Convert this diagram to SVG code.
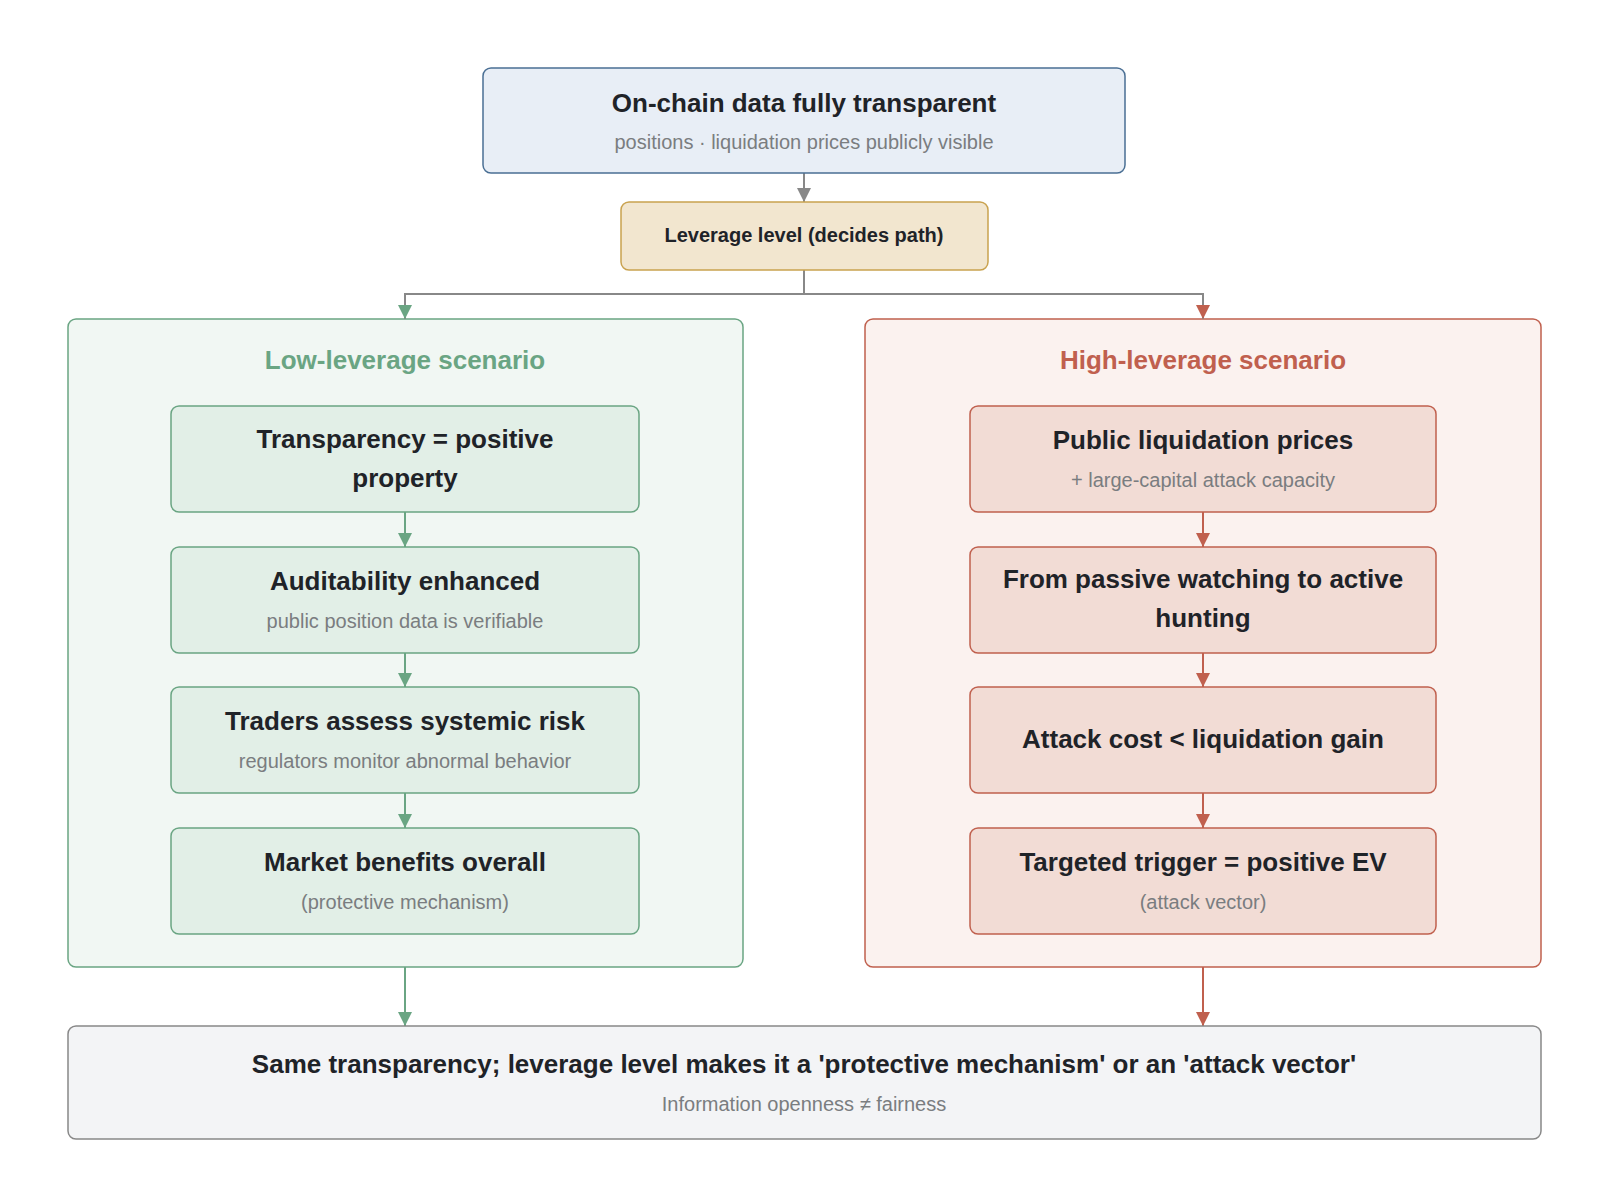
<svg xmlns="http://www.w3.org/2000/svg" width="1600" height="1200" viewBox="0 0 1600 1200">
<style>
text{font-family:"Liberation Sans",Arial,sans-serif;text-anchor:middle;dominant-baseline:middle}
.t{font-size:26px;font-weight:bold;fill:#1f2328}
.s{font-size:20px;fill:#7a7d80}
.g{fill:#e2efe7;stroke:#6aa583;stroke-width:1.5}
.r{fill:#f2dcd5;stroke:#c0604e;stroke-width:1.5}
</style>
<defs>
<marker id="ag" viewBox="0 0 10 10" refX="10" refY="5" markerWidth="8" markerHeight="8" markerUnits="userSpaceOnUse" orient="auto"><path d="M0,0L10,5L0,10z" fill="#6aa583"/></marker>
<marker id="agb" viewBox="0 0 10 10" refX="10" refY="5" markerWidth="20" markerHeight="14" markerUnits="userSpaceOnUse" orient="auto"><path d="M0,0L10,5L0,10z" fill="#6aa583"/></marker>
<marker id="ar" viewBox="0 0 10 10" refX="10" refY="5" markerWidth="20" markerHeight="14" markerUnits="userSpaceOnUse" orient="auto"><path d="M0,0L10,5L0,10z" fill="#c0604e"/></marker>
<marker id="ak" viewBox="0 0 10 10" refX="10" refY="5" markerWidth="20" markerHeight="14" markerUnits="userSpaceOnUse" orient="auto"><path d="M0,0L10,5L0,10z" fill="#888"/></marker>
</defs>
<rect width="1600" height="1200" fill="#fff"/>
<g id="low-container"><rect x="68" y="319" width="675" height="648" rx="8" fill="#f1f7f3" stroke="#6aa583" stroke-width="1.5"/><text x="405" y="362" style="font-size:26px;font-weight:bold;fill:#6aa583">Low-leverage scenario</text></g>
<g id="high-container"><rect x="865" y="319" width="676" height="648" rx="8" fill="#fbf2ef" stroke="#c0604e" stroke-width="1.5"/><text x="1203" y="362" style="font-size:26px;font-weight:bold;fill:#c0604e">High-leverage scenario</text></g>
<g id="connectors" fill="none" stroke-width="2">
<path d="M804,173V202" stroke="#888" marker-end="url(#ak)"/>
<path d="M804,270V294H405V319" stroke="#888" marker-end="url(#agb)"/>
<path d="M804,294H1203V319" stroke="#888" marker-end="url(#ar)"/>
<path d="M405,512V547" stroke="#6aa583" marker-end="url(#agb)"/>
<path d="M405,653V687" stroke="#6aa583" marker-end="url(#agb)"/>
<path d="M405,793V828" stroke="#6aa583" marker-end="url(#agb)"/>
<path d="M1203,512V547" stroke="#c0604e" marker-end="url(#ar)"/>
<path d="M1203,653V687" stroke="#c0604e" marker-end="url(#ar)"/>
<path d="M1203,793V828" stroke="#c0604e" marker-end="url(#ar)"/>
<path d="M405,967V1026" stroke="#6aa583" marker-end="url(#agb)"/>
<path d="M1203,967V1026" stroke="#c0604e" marker-end="url(#ar)"/>
</g>
<g id="top"><rect x="483" y="68" width="642" height="105" rx="8" fill="#e8eef6" stroke="#4a6f94" stroke-width="1.5"/><text class="t" x="804" y="105">On-chain data fully transparent</text><text class="s" x="804" y="144">positions · liquidation prices publicly visible</text></g>
<g id="leverage"><rect x="621" y="202" width="367" height="68" rx="8" fill="#f2e6cf" stroke="#c9a24f" stroke-width="1.5"/><text x="804" y="237" style="font-size:20px;font-weight:bold;fill:#1f2328">Leverage level (decides path)</text></g>
<g id="l1"><rect class="g" x="171" y="406" width="468" height="106" rx="8"/><text class="t" x="405" y="441">Transparency = positive</text><text class="t" x="405" y="480">property</text></g>
<g id="l2"><rect class="g" x="171" y="547" width="468" height="106" rx="8"/><text class="t" x="405" y="583">Auditability enhanced</text><text class="s" x="405" y="623">public position data is verifiable</text></g>
<g id="l3"><rect class="g" x="171" y="687" width="468" height="106" rx="8"/><text class="t" x="405" y="723">Traders assess systemic risk</text><text class="s" x="405" y="763">regulators monitor abnormal behavior</text></g>
<g id="l4"><rect class="g" x="171" y="828" width="468" height="106" rx="8"/><text class="t" x="405" y="864">Market benefits overall</text><text class="s" x="405" y="904">(protective mechanism)</text></g>
<g id="r1"><rect class="r" x="970" y="406" width="466" height="106" rx="8"/><text class="t" x="1203" y="442">Public liquidation prices</text><text class="s" x="1203" y="482">+ large-capital attack capacity</text></g>
<g id="r2"><rect class="r" x="970" y="547" width="466" height="106" rx="8"/><text class="t" x="1203" y="581">From passive watching to active</text><text class="t" x="1203" y="620">hunting</text></g>
<g id="r3"><rect class="r" x="970" y="687" width="466" height="106" rx="8"/><text class="t" x="1203" y="741">Attack cost &lt; liquidation gain</text></g>
<g id="r4"><rect class="r" x="970" y="828" width="466" height="106" rx="8"/><text class="t" x="1203" y="864">Targeted trigger = positive EV</text><text class="s" x="1203" y="904">(attack vector)</text></g>
<g id="bottom"><rect x="68" y="1026" width="1473" height="113" rx="8" fill="#f3f4f6" stroke="#888" stroke-width="1.5"/><text class="t" x="804" y="1066">Same transparency; leverage level makes it a 'protective mechanism' or an 'attack vector'</text><text class="s" x="804" y="1106">Information openness ≠ fairness</text></g>
</svg>
